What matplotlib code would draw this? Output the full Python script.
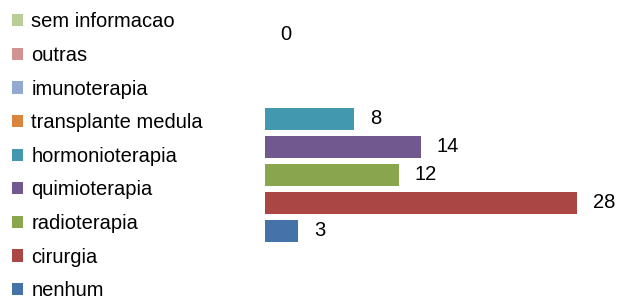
import numpy as np
import matplotlib
matplotlib.use("Agg")
import matplotlib.pyplot as plt
from matplotlib.patches import Patch

plt.rcParams['font.family'] = ['Liberation Sans', 'DejaVu Sans']

# categories bottom to top
categories = ['nenhum', 'cirurgia', 'radioterapia', 'quimioterapia', 'hormonioterapia',
              'transplante medula', 'imunoterapia', 'outras', 'sem informacao']
values = [3, 28, 12, 14, 8, np.nan, np.nan, 0, np.nan]
colors = ['#4572A7', '#AA4643', '#89A54E', '#71588F', '#4198AF',
          '#DB843D', '#93A9CF', '#D19392', '#B9CD96']

fig = plt.figure(figsize=(6.17, 2.97), dpi=100)
ax = fig.add_axes([265 / 617, 0, 352 / 617, 1])

y = np.arange(len(categories))
ax.barh(y, values, height=0.78, color=colors)
for yi, v in zip(y, values):
    if not np.isnan(v):
        ax.text(v + 1.4, yi, f'{v:g}', va='center', ha='left', fontsize=14.5)

ax.set_xlim(0, 352 / 11.14)
ax.set_ylim(-66 / 28, 231 / 28)
ax.axis('off')

handles = [Patch(facecolor=c, label=l) for c, l in zip(colors, categories)][::-1]
fig.legend(handles=handles, loc='upper left', bbox_to_anchor=(0.02, 0.958),
           frameon=False, fontsize=14.5, handlelength=0.55, handleheight=0.55,
           handletextpad=0.4, labelspacing=0.725, borderaxespad=0, borderpad=0)

fig.savefig('out.png', dpi=100)
